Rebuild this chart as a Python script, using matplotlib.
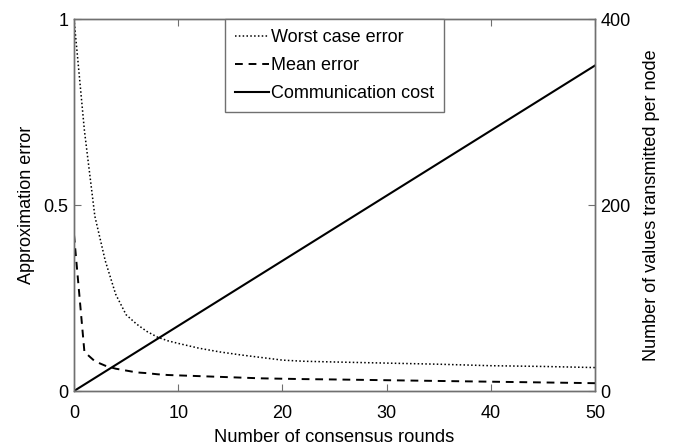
import matplotlib
matplotlib.use("Agg")
import matplotlib.pyplot as plt

plt.rcParams['font.family'] = ['Liberation Sans', 'DejaVu Sans']

# consensus rounds and error values
rounds_err = [0, 1, 2, 3, 4, 5, 6, 7, 8, 9, 10, 12, 14, 16, 18, 20, 22, 25, 30, 35, 40, 45, 50]
worst_err = [1.0, 0.70, 0.47, 0.35, 0.26, 0.205, 0.18, 0.16, 0.145, 0.135, 0.128, 0.115,
             0.105, 0.097, 0.09, 0.083, 0.08, 0.078, 0.075, 0.072, 0.068, 0.066, 0.063]
mean_err = [0.42, 0.105, 0.08, 0.068, 0.06, 0.055, 0.05, 0.048, 0.045, 0.043, 0.042, 0.040,
            0.038, 0.036, 0.034, 0.033, 0.032, 0.031, 0.029, 0.027, 0.025, 0.023, 0.021]

rounds_cost = [0, 10, 20, 30, 40, 50]
comm_cost = [0, 70, 140, 210, 280, 350]

frame = '#707070'

fig = plt.figure(figsize=(6.73, 4.46), dpi=100)
ax = fig.add_axes([74 / 673, 1 - 391 / 446, 521 / 673, 372 / 446])
ax2 = ax.twinx()

l1, = ax.plot(rounds_err, worst_err, color='black', linestyle=(0, (1, 1.5)), lw=1.1)
l2, = ax.plot(rounds_err, mean_err, color='black', linestyle=(0, (4, 3)), lw=1.4)
l3, = ax2.plot(rounds_cost, comm_cost, color='black', lw=1.5)

ax.set_xlim(0, 50)
ax.set_ylim(0, 1)
ax2.set_ylim(0, 400)
ax.set_xticks([0, 10, 20, 30, 40, 50])
ax.set_yticks([0, 0.5, 1])
ax.set_yticklabels(['0', '0.5', '1'])
ax2.set_yticks([0, 200, 400])

for a in (ax, ax2):
    for s in a.spines.values():
        s.set_color(frame)
        s.set_linewidth(1.0)
ax.tick_params(axis='x', direction='in', top=True, length=5, color=frame,
               labelsize=13, pad=10)
ax.tick_params(axis='y', direction='in', length=5, color=frame, labelsize=13, pad=4)
ax2.tick_params(axis='y', direction='in', length=5, color=frame, labelsize=13, pad=4)

ax.set_xlabel('Number of consensus rounds', fontsize=13.2, labelpad=5)
ax.set_ylabel('Approximation error', fontsize=13, labelpad=6)
ax2.set_ylabel('Number of values transmitted per node', fontsize=13, labelpad=9)

leg = ax.legend([l1, l2, l3], ['Worst case error', 'Mean error', 'Communication cost'],
                loc='upper center', bbox_to_anchor=(0.5, 1.0), borderaxespad=0,
                fontsize=13, handlelength=1.9, handletextpad=0.1, fancybox=False,
                framealpha=1, edgecolor=frame, labelspacing=0.62, borderpad=0.55)
leg.get_frame().set_linewidth(1.0)
ax.set_zorder(ax2.get_zorder() + 1)
ax.patch.set_visible(False)

fig.savefig('out.png', dpi=100)
